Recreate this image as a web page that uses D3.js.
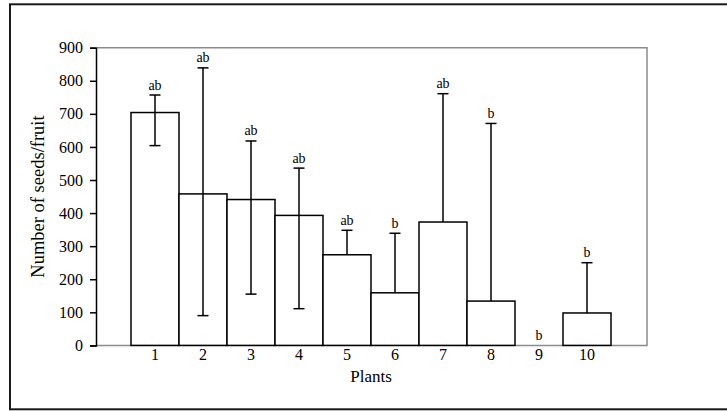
<!DOCTYPE html>
<html>
<head>
<meta charset="utf-8">
<script src="https://cdnjs.cloudflare.com/ajax/libs/d3/7.8.5/d3.min.js"></script>
<style>
  body { margin: 0; background: #fff; }
  text { font-family: "Liberation Serif", "Times New Roman", serif; fill: #000; }
</style>
</head>
<body>
<div id="my_dataviz"></div>
<script>
// data
var plants = ["1", "2", "3", "4", "5", "6", "7", "8", "9", "10"];
var seeds = [704, 458, 441, 393, 274, 159, 373, 134, 0, 98];
var errUpper = [757, 839, 618, 536, 348, 339, 761, 671, null, 250];
var errLower = [604, 90, 155, 111, null, null, null, null, null, null];
var letters = ["ab", "ab", "ab", "ab", "ab", "b", "ab", "b", "b", "b"];
var yTicks = [0, 100, 200, 300, 400, 500, 600, 700, 800, 900];

var data = plants.map(function(p, i) {
  return {plant: p, value: seeds[i], hi: errUpper[i], lo: errLower[i], letter: letters[i]};
});

var W = 727, H = 411;
// plot area (window.top is taken, so plotTop etc.)
var plotLeft = 96, plotRight = 647, plotTop = 47.7, plotBottom = 345.4;

var svg = d3.select("#my_dataviz")
  .append("svg")
    .attr("width", W)
    .attr("height", H);

// outer frame
svg.append("rect")
  .attr("x", 10).attr("y", 4.3)
  .attr("width", 730).attr("height", 405)
  .attr("fill", "none")
  .attr("stroke", "#1a1a1a")
  .attr("stroke-width", 2);

var x = d3.scaleBand()
  .domain(plants)
  .range([131, 611])
  .padding(0);

var y = d3.scaleLinear()
  .domain([0, 900])
  .range([plotBottom, plotTop]);

// grey box round the plot
svg.append("path")
  .attr("d", "M" + plotLeft + "," + plotTop + "H" + plotRight + "V" + plotBottom + "H" + plotLeft)
  .attr("fill", "none")
  .attr("stroke", "#8c8c8c")
  .attr("stroke-width", 1.5);

// Y axis
var yAxis = svg.append("g")
  .attr("transform", "translate(" + plotLeft + ",0)")
  .call(d3.axisLeft(y).tickValues(yTicks).tickSize(6).tickPadding(7));
yAxis.select(".domain").attr("stroke", "#000").attr("stroke-width", 1.5);
yAxis.selectAll(".tick line").attr("stroke", "#000").attr("stroke-width", 1.5);
yAxis.selectAll("text")
  .style("font-family", "Liberation Serif")
  .style("font-size", "16px")
  .attr("fill", "#000");

// X tick labels (no tick marks)
var xAxis = svg.append("g")
  .attr("transform", "translate(0," + plotBottom + ")")
  .call(d3.axisBottom(x).tickSize(0).tickPadding(3));
xAxis.select(".domain").remove();
xAxis.selectAll("text")
  .style("font-family", "Liberation Serif")
  .style("font-size", "16px")
  .attr("fill", "#000");

// bars
svg.selectAll("rect.bar")
  .data(data.filter(function(d) { return d.value > 0; }))
  .enter()
  .append("rect")
    .attr("class", "bar")
    .attr("x", function(d) { return x(d.plant); })
    .attr("y", function(d) { return y(d.value); })
    .attr("width", x.bandwidth())
    .attr("height", function(d) { return y(0) - y(d.value); })
    .attr("fill", "#fff")
    .attr("stroke", "#000")
    .attr("stroke-width", 1.5);

// error bars
var eb = data.filter(function(d) { return d.hi != null; });
var cx = function(d) { return x(d.plant) + x.bandwidth() / 2; };

svg.selectAll("line.err")
  .data(eb)
  .enter()
  .append("line")
    .attr("class", "err")
    .attr("x1", cx).attr("x2", cx)
    .attr("y1", function(d) { return y(d.lo != null ? d.lo : d.value); })
    .attr("y2", function(d) { return y(d.hi); })
    .attr("stroke", "#000")
    .attr("stroke-width", 1.5);

svg.selectAll("line.capHi")
  .data(eb)
  .enter()
  .append("line")
    .attr("class", "capHi")
    .attr("x1", function(d) { return cx(d) - 5.5; })
    .attr("x2", function(d) { return cx(d) + 5.5; })
    .attr("y1", function(d) { return y(d.hi); })
    .attr("y2", function(d) { return y(d.hi); })
    .attr("stroke", "#000")
    .attr("stroke-width", 1.5);

svg.selectAll("line.capLo")
  .data(eb.filter(function(d) { return d.lo != null; }))
  .enter()
  .append("line")
    .attr("class", "capLo")
    .attr("x1", function(d) { return cx(d) - 5.5; })
    .attr("x2", function(d) { return cx(d) + 5.5; })
    .attr("y1", function(d) { return y(d.lo); })
    .attr("y2", function(d) { return y(d.lo); })
    .attr("stroke", "#000")
    .attr("stroke-width", 1.5);

// significance letters
svg.selectAll("text.letter")
  .data(data)
  .enter()
  .append("text")
    .attr("class", "letter")
    .attr("x", cx)
    .attr("y", function(d) { return y(d.hi != null ? d.hi : d.value) - 5.5; })
    .attr("text-anchor", "middle")
    .style("font-size", "14px")
    .text(function(d) { return d.letter; });

// axis titles
svg.append("text")
  .attr("x", 371)
  .attr("y", 382)
  .attr("text-anchor", "middle")
  .style("font-size", "17px")
  .text("Plants");

svg.append("text")
  .attr("transform", "translate(44," + (plotTop + plotBottom) / 2 + ") rotate(-90)")
  .attr("text-anchor", "middle")
  .style("font-size", "18.5px")
  .text("Number of seeds/fruit");
</script>
</body>
</html>
